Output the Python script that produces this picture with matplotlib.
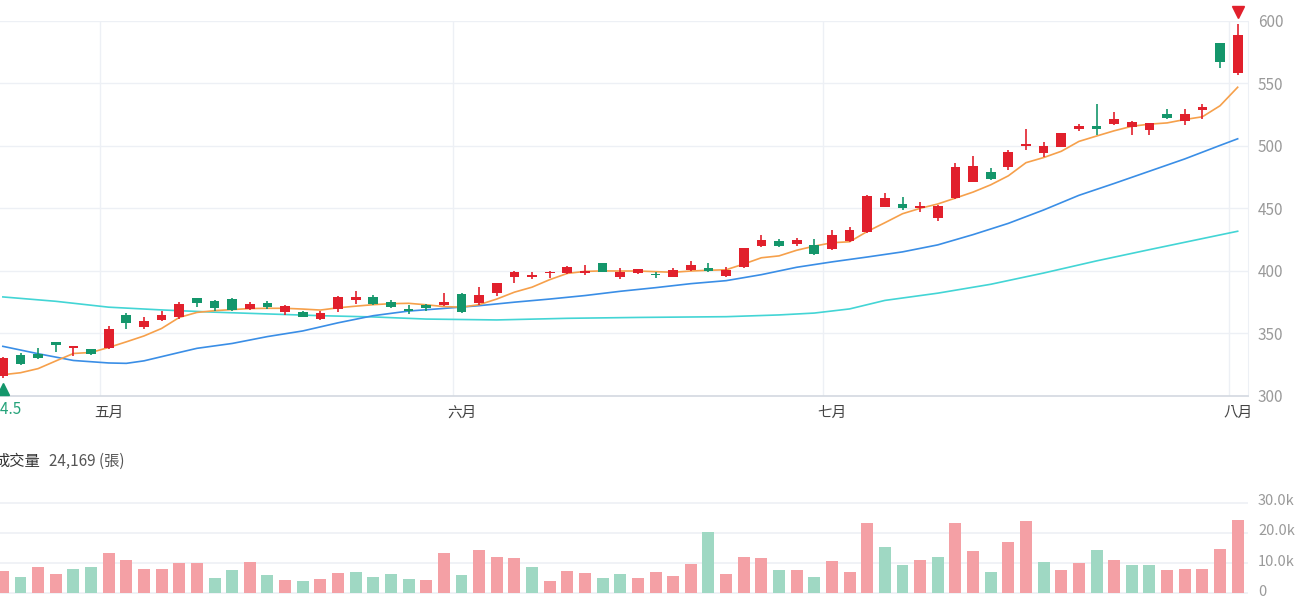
import matplotlib
matplotlib.use("Agg")
import matplotlib.pyplot as plt
from matplotlib.transforms import ScaledTranslation

# daily candles (price)
opens = [315.9, 332.6, 333.7, 343.0, 338.4, 337.2, 338.4, 364.7, 355.4, 360.8,
         362.9, 378.1, 375.9, 377.3, 369.8, 374.6, 366.9, 367.4, 361.3, 369.3,
         376.7, 379.4, 375.4, 369.3, 372.7, 372.7, 381.5, 374.1, 382.1, 395.4,
         395.4, 398.1, 398.1, 398.6, 406.1, 394.9, 398.1, 397.3, 395.4, 400.7,
         402.6, 395.9, 402.9, 419.9, 423.9, 421.5, 420.7, 417.3, 424.1, 431.3,
         451.3, 453.2, 450.0, 442.1, 458.0, 471.3, 479.3, 483.3, 500.1, 494.0,
         499.3, 513.4, 516.1, 517.2, 515.3, 512.6, 525.2, 520.1, 528.6, 581.9,
         558.5]
highs = [331.5, 334.6, 338.4, 343.5, 340.2, 337.8, 355.7, 366.1, 362.9, 368.2,
         375.4, 378.6, 376.4, 378.1, 375.4, 376.2, 372.4, 367.9, 368.2, 379.9,
         383.9, 380.7, 376.7, 372.7, 373.2, 382.1, 382.0, 386.9, 390.5, 399.8,
         399.4, 399.6, 403.9, 404.5, 406.5, 402.1, 401.7, 399.4, 402.1, 408.2,
         406.1, 403.4, 418.5, 428.7, 425.3, 426.5, 425.3, 432.7, 434.9, 460.3,
         462.0, 458.8, 455.3, 452.3, 486.0, 491.9, 482.5, 496.7, 513.2, 503.3,
         510.3, 517.4, 533.2, 527.3, 519.5, 518.5, 529.2, 529.4, 533.2, 582.3,
         597.4]
lows = [314.5, 324.8, 329.5, 335.3, 331.8, 332.8, 337.2, 353.3, 353.6, 360.2,
        361.6, 371.4, 368.2, 368.2, 368.8, 369.3, 364.7, 362.9, 360.8, 367.4,
        373.3, 373.0, 370.5, 365.5, 368.2, 372.3, 366.6, 372.7, 379.9, 390.6,
        393.3, 394.0, 397.6, 396.7, 399.0, 393.5, 397.5, 394.0, 394.8, 399.9,
        398.9, 395.5, 402.1, 419.5, 418.9, 419.9, 413.0, 417.0, 423.5, 430.5,
        451.0, 448.7, 447.3, 440.1, 457.5, 470.8, 472.5, 480.7, 496.7, 491.3,
        499.0, 511.8, 508.6, 516.5, 508.6, 508.6, 521.5, 516.6, 521.2, 561.9,
        556.6]
closes = [330.2, 325.7, 330.0, 340.6, 339.8, 333.2, 353.6, 358.1, 360.0, 364.7,
          373.3, 374.1, 370.1, 368.8, 373.3, 370.9, 371.9, 363.4, 366.6, 379.4,
          378.9, 373.5, 370.9, 367.7, 370.1, 374.9, 367.4, 380.7, 390.1, 399.4,
          396.7, 399.4, 402.9, 400.2, 399.4, 398.9, 401.3, 396.5, 400.7, 404.7,
          400.2, 400.7, 418.1, 424.7, 420.2, 424.7, 413.3, 428.7, 432.5, 459.9,
          458.0, 450.5, 452.1, 451.9, 483.3, 484.1, 473.2, 494.8, 501.4, 500.1,
          510.0, 516.1, 513.2, 521.4, 518.8, 518.0, 522.0, 525.4, 531.3, 567.2,
          588.6]

# volume in thousand 張, and whether the bar is drawn red (1) or green (0)
volumes = [7.3, 5.6, 8.6, 6.5, 8.1, 8.8, 13.4, 11.0, 8.1, 8.0,
           10.1, 10.0, 5.0, 7.9, 10.3, 6.0, 4.5, 4.2, 4.7, 6.7,
           7.2, 5.5, 6.4, 4.8, 4.4, 13.3, 6.1, 14.5, 11.9, 11.7,
           8.7, 4.1, 7.3, 6.7, 5.0, 6.3, 5.2, 7.2, 5.8, 9.7,
           20.2, 6.3, 11.9, 11.6, 7.6, 7.6, 5.5, 10.7, 7.2, 23.1,
           15.2, 9.3, 11.0, 12.1, 23.2, 14.0, 7.2, 17.1, 23.9, 10.3,
           7.6, 10.0, 14.5, 11.2, 9.5, 9.5, 7.6, 8.0, 8.1, 14.8,
           24.169]
vol_up = [1, 0, 1, 1, 0, 0, 1, 1, 1, 1,
          1, 1, 0, 0, 1, 0, 1, 0, 1, 1,
          0, 0, 0, 0, 1, 1, 0, 1, 1, 1,
          0, 1, 1, 1, 0, 0, 1, 1, 1, 1,
          0, 1, 1, 1, 0, 1, 0, 1, 1, 1,
          0, 0, 1, 0, 1, 1, 0, 1, 1, 0,
          1, 1, 0, 1, 0, 0, 1, 1, 1, 1,
          1]

# moving averages
ma5 = [317.0, 318.6, 321.9, 328.0, 334.0, 334.8, 338.8, 343.3, 348.0, 354.0,
       362.8, 366.8, 368.2, 369.1, 369.9, 370.1, 370.1, 369.5, 368.7, 370.5,
       371.8, 373.0, 373.8, 374.1, 372.9, 371.5, 371.0, 373.0, 377.5, 383.0,
       387.0, 393.0, 398.0, 399.6, 400.0, 399.9, 399.9, 399.4, 398.9, 399.9,
       400.5, 400.9, 405.5, 410.5, 412.0, 416.5, 419.8, 422.5, 423.3, 431.5,
       438.5, 445.7, 450.0, 453.5, 458.2, 463.0, 468.8, 476.0, 486.5, 490.6,
       495.6, 503.5, 507.8, 512.0, 515.6, 517.3, 518.3, 521.0, 523.2, 532.0,
       546.8]
ma20_x = [0, 2, 4, 6, 7, 8, 10, 11, 13, 15, 17, 19, 21, 23, 25, 27, 29, 31, 33,
          35, 37, 39, 41, 43, 45, 47, 49, 51, 53, 55, 57, 59, 61, 63, 65, 67, 69, 70]
ma20 = [339.7, 333.8, 328.4, 326.4, 326.1, 328.1, 334.8, 338.1, 342.0, 347.5,
        352.0, 358.5, 364.2, 367.9, 370.0, 372.2, 375.0, 377.5, 380.3, 383.7,
        386.6, 389.8, 392.2, 397.0, 402.9, 407.2, 411.1, 415.2, 420.8, 429.0,
        438.0, 448.7, 460.4, 469.9, 479.7, 489.5, 500.3, 505.6]
ma60_x = [0, 3, 6, 9, 12, 15, 18, 21, 24, 28, 32, 36, 41, 44, 46, 48, 50, 53,
          56, 59, 62, 65, 70]
ma60 = [379.2, 375.7, 371.0, 368.8, 367.0, 365.6, 364.2, 363.2, 361.5, 360.8,
        362.1, 362.8, 363.4, 364.8, 366.3, 369.6, 376.4, 382.2, 389.3, 398.3,
        408.0, 417.0, 431.7]

# first trading day of each month
month_pos = [6, 26, 47, 70]
month_labels = ['五月', '六月', '七月', '八月']
price_ticks = [300, 350, 400, 450, 500, 550, 600]
vol_ticks = [0, 10, 20, 30]
vol_tick_labels = ['0', '10.0k', '20.0k', '30.0k']

RED = '#e1202c'
GREEN = '#14966b'
VOL_RED = '#f4a0a5'
VOL_GREEN = '#9fd8c3'
GRID = '#edf0f5'

plt.rcParams['font.family'] = ['Noto Sans CJK TC', 'DejaVu Sans']

W, H = 1300, 600
fig = plt.figure(figsize=(13, 6), dpi=100)
fig.patch.set_facecolor('white')

step = 17.64          # pixels per candle
x0 = -2.86 / step     # index at the left edge of the figure
right_px = 1248.3
x1 = x0 + right_px / step

# price panel
top_px, bot_px = 20.7, 396
ax = fig.add_axes([0, 1 - bot_px / H, right_px / W, (bot_px - top_px) / H])
ax.set_xlim(x0, x1)
ax.set_ylim(300, 600)

for p in price_ticks[1:]:
    ax.axhline(p, color=GRID, lw=1, zorder=0)
for m in month_pos:
    ax.axvline(m - 0.5, color=GRID, lw=1, zorder=0)

ax.plot(ma60_x, ma60, color='#43d5d5', lw=1.2, zorder=2)
ax.plot(ma20_x, ma20, color='#3a8ee6', lw=1.2, zorder=2)
ax.plot(range(len(ma5)), ma5, color='#f6a04b', lw=1.2, zorder=2)

idx = list(range(len(opens)))
colors = [RED if c >= o else GREEN for o, c in zip(opens, closes)]
bottoms = [min(o, c) for o, c in zip(opens, closes)]
heights = [max(abs(c - o), 0.9) for o, c in zip(opens, closes)]
ax.vlines(idx, lows, highs, colors=colors, lw=1.2, zorder=3)
ax.bar(idx, heights, bottom=bottoms, width=0.55, color=colors, zorder=4)

# lowest / highest markers
lo_i = lows.index(min(lows))
hi_i = highs.index(max(highs))
ax.plot(lo_i, min(lows), marker='^', markersize=9, color=GREEN,
        linestyle='none', clip_on=False, zorder=5,
        transform=ax.transData + ScaledTranslation(0, -11.5 / 100, fig.dpi_scale_trans))
ax.annotate(f'{min(lows):.1f}', xy=(lo_i, min(lows)), xytext=(0, -23),
            textcoords='offset points', ha='center', va='center',
            fontsize=11, color='#25a37a', annotation_clip=False)
ax.plot(hi_i, max(highs), marker='v', markersize=9, color=RED,
        linestyle='none', clip_on=False, zorder=5,
        transform=ax.transData + ScaledTranslation(0, 11.5 / 100, fig.dpi_scale_trans))

ax.yaxis.tick_right()
ax.set_yticks(price_ticks)
ax.tick_params(axis='y', length=0, pad=7, labelsize=11, labelcolor='#9a9a9a')
ax.set_xticks(month_pos)
ax.set_xticklabels(month_labels)
ax.tick_params(axis='x', length=0, pad=7, labelsize=10.5, labelcolor='#444444')
for s in ['left', 'top']:
    ax.spines[s].set_visible(False)
ax.spines['bottom'].set_color('#d3d8e0')
ax.spines['bottom'].set_linewidth(1.2)
ax.spines['right'].set_color(GRID)

# volume panel
vtop_px, vbot_px = 498, 595
vax = fig.add_axes([0, 1 - vbot_px / H, right_px / W, (vbot_px - vtop_px) / H])
vax.set_xlim(x0, x1)
vax.set_ylim(-0.5, 31.5)
for v in vol_ticks:
    vax.axhline(v, color=GRID, lw=1.2, zorder=0)
vcolors = [VOL_RED if u else VOL_GREEN for u in vol_up]
vax.bar(idx, volumes, width=0.68, color=vcolors, zorder=2)
vax.yaxis.tick_right()
vax.set_yticks(vol_ticks)
vax.set_yticklabels(vol_tick_labels)
vax.tick_params(axis='y', length=0, pad=7, labelsize=10.5, labelcolor='#9a9a9a')
vax.set_xticks([])
for s in vax.spines.values():
    s.set_visible(False)
# lift the volume labels a little so the "0" stays inside the picture
lift = ScaledTranslation(0, 3 / 100, fig.dpi_scale_trans)
for lbl in vax.get_yticklabels():
    lbl.set_transform(lbl.get_transform() + lift)

fig.text(-6 / W, 1 - 461 / H, '成交量', ha='left', va='center',
         fontsize=11, color='#333333')
fig.text(49 / W, 1 - 461 / H, f'{volumes[-1] * 1000:,.0f} (張)', ha='left',
         va='center', fontsize=11, color='#555555')

fig.savefig('out.png', dpi=100, facecolor='white')
